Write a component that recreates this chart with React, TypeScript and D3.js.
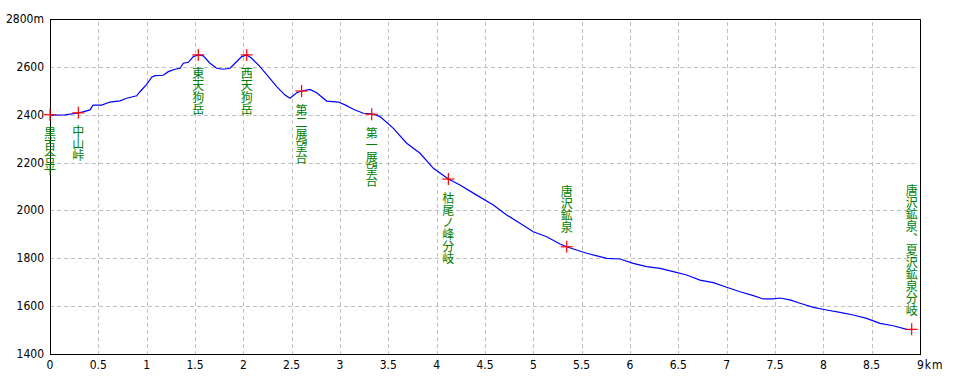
import React from "react";
import * as d3 from "d3";

// Profile data (distance km, elevation m)
const distances = [
  0, 0.155, 0.276, 0.341, 0.414, 0.445, 0.535, 0.62, 0.724, 0.793, 0.897, 0.931, 1.0, 1.052, 1.086,
  1.172, 1.224, 1.293, 1.345, 1.379, 1.431, 1.483, 1.534, 1.586, 1.655, 1.724, 1.793, 1.862, 1.914,
  1.983, 2.035, 2.086, 2.172, 2.259, 2.345, 2.431, 2.483, 2.552, 2.603, 2.69, 2.759, 2.862, 2.983,
  3.052, 3.138, 3.241, 3.345, 3.414, 3.552, 3.69, 3.828, 3.966, 4.121, 4.241, 4.414, 4.586, 4.724,
  4.862, 5.0, 5.138, 5.276, 5.345, 5.414, 5.552, 5.759, 5.897, 6.034, 6.172, 6.31, 6.448, 6.586,
  6.724, 6.862, 7.0, 7.138, 7.276, 7.379, 7.483, 7.552, 7.655, 7.759, 7.897, 8.034, 8.172, 8.31,
  8.448, 8.586, 8.724, 8.862, 8.914,
];
const elevations = [
  2398, 2399, 2406, 2412, 2420, 2440, 2440, 2453, 2458, 2469, 2479, 2496, 2527, 2557, 2563,
  2565, 2580, 2590, 2594, 2615, 2619, 2643, 2650, 2646, 2615, 2594, 2590, 2594, 2615,
  2643, 2650, 2636, 2601, 2559, 2517, 2482, 2469, 2492, 2499, 2506, 2492, 2457, 2453,
  2441, 2423, 2406, 2403, 2392, 2343, 2281, 2239, 2176, 2131, 2106, 2064, 2023, 1981,
  1946, 1911, 1890, 1860, 1848, 1839, 1821, 1800, 1797, 1779, 1765, 1758, 1744, 1730,
  1709, 1698, 1679, 1660, 1644, 1630, 1630, 1634, 1626, 1612, 1595, 1584, 1574, 1563,
  1549, 1528, 1518, 1503, 1502,
];

// Waypoints
const wpNames = [
  "黒百合平", "中山峠", "東天狗岳", "西天狗岳", "第二展望台", "第一展望台",
  "枯尾ノ峰分岐", "唐沢鉱泉", "唐沢鉱泉、夏沢鉱泉分岐",
];
const wpKm = [0, 0.293, 1.534, 2.035, 2.603, 3.328, 4.121, 5.345, 8.914];
const wpElev = [2400, 2408, 2650, 2650, 2499, 2402, 2131, 1848, 1503];
const wpAbove = [false, false, false, false, false, false, false, true, true];

const xTicks = d3.range(0, 9.01, 0.5);
const yTicks = d3.range(1400, 2801, 200);

const W = 960;
const H = 384;
const left = 50;
const right = 920;
const top = 19;
const bottom = 354;

export default function App() {
  const x = d3.scaleLinear().domain([0, 9]).range([left, right]);
  const y = d3.scaleLinear().domain([1400, 2800]).range([bottom, top]);
  const pts: [number, number][] = distances.map((d, i) => [d, elevations[i]]);
  const line = d3
    .line<[number, number]>()
    .x((d) => x(d[0]))
    .y((d) => y(d[1]))(pts);

  const axisFont = "'Liberation Sans Narrow', 'DejaVu Sans Condensed', 'Arial Narrow', sans-serif";
  const cjkFont = "'Noto Sans CJK JP', 'Noto Sans CJK SC', sans-serif";

  return (
    <svg
      width={W}
      height={H}
      style={{ position: "fixed", left: 0, top: 0, background: "#fff" }}
    >
      <rect x={0} y={0} width={W} height={H} fill="#fff" />
      {/* grid */}
      <g stroke="#c0c0c0" strokeWidth={1} strokeDasharray="4,3" shapeRendering="crispEdges">
        {xTicks
          .filter((t) => t > 0 && t < 9)
          .map((t) => (
            <line key={"gx" + t} x1={Math.round(x(t)) + 0.5} x2={Math.round(x(t)) + 0.5} y1={top + 3} y2={bottom} />
          ))}
        {yTicks
          .filter((t) => t > 1400 && t < 2800)
          .map((t) => (
            <line key={"gy" + t} x1={left} x2={right - 3} y1={Math.round(y(t)) + 0.5} y2={Math.round(y(t)) + 0.5} />
          ))}
      </g>
      {/* frame */}
      <g stroke="#000" strokeWidth={1} shapeRendering="crispEdges" fill="none">
        <line x1={left + 0.5} x2={left + 0.5} y1={top} y2={bottom + 1} />
        <line x1={left} x2={right + 1} y1={bottom + 0.5} y2={bottom + 0.5} />
        <line x1={left} x2={right + 1} y1={top + 0.5} y2={top + 0.5} />
        <line x1={right + 0.5} x2={right + 0.5} y1={top} y2={bottom + 1} />
      </g>
      {/* y tick labels */}
      <g fontFamily={axisFont} fontSize={12} fill="#000" textAnchor="end">
        {yTicks.map((t) => (
          <text key={"yl" + t} x={44} y={y(t)} dominantBaseline="central">
            {t === 2800 ? "2800m" : String(t)}
          </text>
        ))}
      </g>
      {/* x tick labels */}
      <g fontFamily={axisFont} fontSize={12} fill="#000">
        {xTicks.map((t) =>
          t === 9 ? (
            <text key={"xl" + t} x={x(t) - 3} y={365} dominantBaseline="central" textAnchor="start" letterSpacing={1}>
              9km
            </text>
          ) : (
            <text key={"xl" + t} x={x(t)} y={365} dominantBaseline="central" textAnchor="middle">
              {String(t)}
            </text>
          )
        )}
      </g>
      {/* profile */}
      <path d={line || ""} fill="none" stroke="#0000ff" strokeWidth={1.2} />
      {/* waypoint labels (vertical text) */}
      <g fontFamily={cjkFont} fontSize={12} fill="#008000">
        {wpNames.map((name, i) => {
          const cx = x(wpKm[i]);
          const cy = y(wpElev[i]);
          return (
            <text
              key={"w" + i}
              x={cx}
              y={wpAbove[i] ? cy - 13 : cy + 13}
              textAnchor={wpAbove[i] ? "end" : "start"}
              style={{ writingMode: "vertical-rl" as any }}
            >
              {name}
            </text>
          );
        })}
      </g>
      {/* markers */}
      <g stroke="#ff0000" strokeWidth={1.2}>
        {wpKm.map((k, i) => {
          const cx = x(k);
          const cy = y(wpElev[i]);
          return (
            <g key={"m" + i}>
              <line x1={cx - 6} x2={cx + 6} y1={cy} y2={cy} />
              <line x1={cx} x2={cx} y1={cy - 6} y2={cy + 6} />
            </g>
          );
        })}
      </g>
    </svg>
  );
}
